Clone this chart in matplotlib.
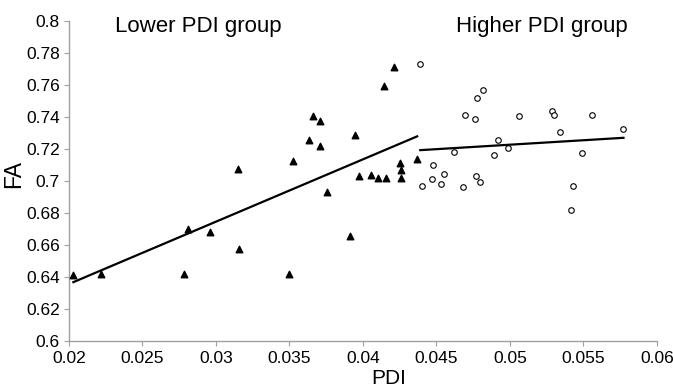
import matplotlib
matplotlib.use("Agg")
import matplotlib.pyplot as plt
import numpy as np

plt.rcParams['font.family'] = ['Liberation Sans', 'DejaVu Sans']

lower_pdi = [0.0203, 0.0222, 0.0278, 0.0281, 0.0296, 0.0315, 0.0316, 0.03495, 0.03526,
             0.0363, 0.03662, 0.03707, 0.03707, 0.03753, 0.03912, 0.03946, 0.03971,
             0.04054, 0.0410, 0.04156, 0.04145, 0.04213, 0.04254, 0.04261, 0.04256, 0.04369]
lower_fa = [0.641, 0.6417, 0.642, 0.6698, 0.668, 0.7073, 0.6575, 0.6415, 0.7125,
            0.7254, 0.7404, 0.7373, 0.7219, 0.6931, 0.6654, 0.7286, 0.7031,
            0.7036, 0.7019, 0.7019, 0.7592, 0.7711, 0.7109, 0.7065, 0.7015, 0.7134]

higher_pdi = [0.0439, 0.04474, 0.04469, 0.04551, 0.04403, 0.0453, 0.04621, 0.0468,
              0.04694, 0.04764, 0.04776, 0.04816, 0.04771, 0.04796, 0.04916, 0.04893,
              0.04989, 0.0506, 0.05284, 0.05302, 0.05343, 0.05494, 0.05429, 0.05417,
              0.0556, 0.05773]
higher_fa = [0.7731, 0.710, 0.7013, 0.7042, 0.6965, 0.6977, 0.7181, 0.6959,
             0.7413, 0.7388, 0.7519, 0.7567, 0.7029, 0.6994, 0.7254, 0.7159,
             0.7204, 0.7407, 0.7438, 0.7413, 0.7306, 0.7175, 0.6965, 0.6815,
             0.7413, 0.7325]

x_ticks = [0.02, 0.025, 0.03, 0.035, 0.04, 0.045, 0.05, 0.055, 0.06]
x_tick_labels = ['0.02', '0.025', '0.03', '0.035', '0.04', '0.045', '0.05', '0.055', '0.06']
y_ticks = [0.6, 0.62, 0.64, 0.66, 0.68, 0.7, 0.72, 0.74, 0.76, 0.78, 0.8]
y_tick_labels = ['0.6', '0.62', '0.64', '0.66', '0.68', '0.7', '0.72', '0.74', '0.76', '0.78', '0.8']

fig = plt.figure(figsize=(6.73, 3.91), dpi=100)
ax = fig.add_axes([0.1025, 0.1286, 0.8735, 0.8184])

ax.scatter(lower_pdi, lower_fa, marker='^', s=22, color='black', zorder=3)
ax.scatter(higher_pdi, higher_fa, marker='o', s=16, facecolors='white', edgecolors='black',
           linewidths=0.8, zorder=3)

for xs, ys in ((lower_pdi, lower_fa), (higher_pdi, higher_fa)):
    xs = np.array(xs); ys = np.array(ys)
    m, b = np.polyfit(xs, ys, 1)
    xl = np.array([xs.min(), xs.max()])
    ax.plot(xl, m * xl + b, color='black', lw=1.6, zorder=2)

ax.set_xlim(0.02, 0.06)
ax.set_ylim(0.6, 0.8)
ax.set_xticks(x_ticks)
ax.set_xticklabels(x_tick_labels)
ax.set_yticks(y_ticks)
ax.set_yticklabels(y_tick_labels)
for s in ('top', 'right'):
    ax.spines[s].set_visible(False)
for s in ('left', 'bottom'):
    ax.spines[s].set_color('#a0a0a0')
    ax.spines[s].set_linewidth(1.0)
ax.tick_params(axis='both', colors='#a0a0a0', labelcolor='black', labelsize=12.5,
               length=3.5, direction='out')
ax.tick_params(axis='y', pad=3)
ax.tick_params(axis='x', pad=4)
ax.set_xlabel('PDI', fontsize=15)
ax.xaxis.set_label_coords(0.544, -0.088)
ax.set_ylabel('FA', fontsize=16.5)
ax.yaxis.set_label_coords(-0.074, 0.5225)

ax.text(0.02313, 0.7931, 'Lower PDI group', fontsize=16, va='baseline', ha='left')
ax.text(0.04633, 0.7931, 'Higher PDI group', fontsize=16, va='baseline', ha='left')

fig.savefig('out.png', dpi=100)
